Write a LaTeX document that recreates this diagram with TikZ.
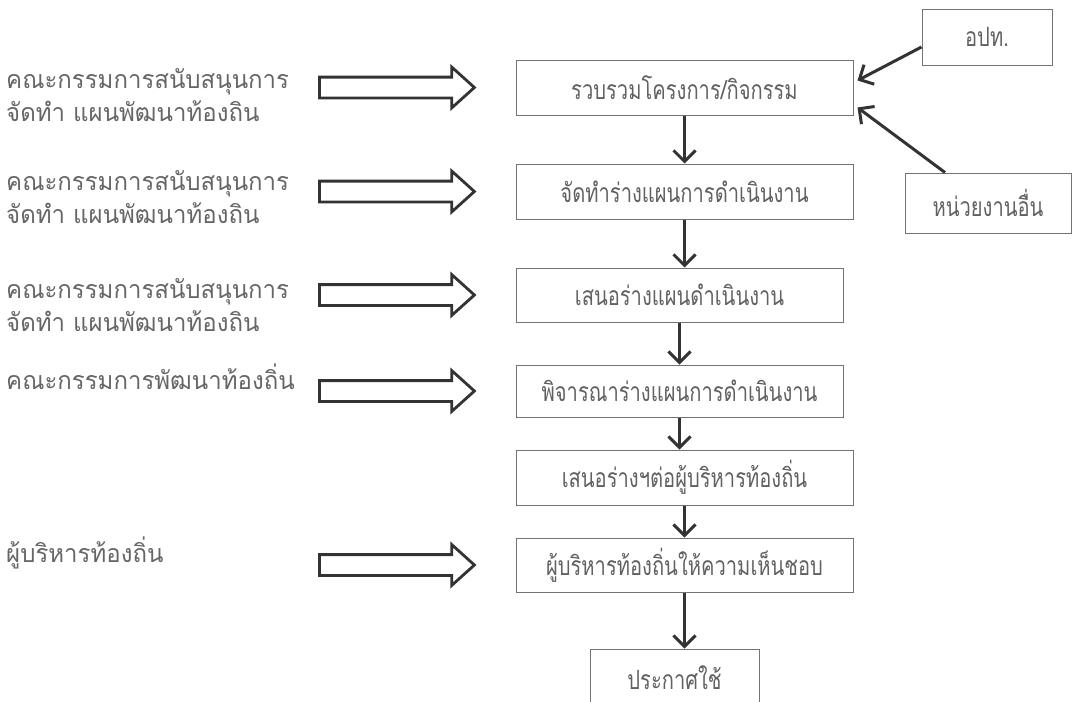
\documentclass[tikz,border=0pt]{standalone}
\usepackage{fontspec}
\newfontfamily\thaibox[Script=Thai,FakeStretch=0.76]{Loma}
\newfontfamily\thaiside[Script=Thai,FakeStretch=0.96]{Loma}
\usetikzlibrary{arrows.meta}
\usetikzlibrary{positioning}
\usetikzlibrary{shapes.arrows}

\tikzset{
  stage/.style={draw=black!55, line width=1pt, inner sep=0pt,
    text=black!62, font=\thaibox\fontsize{26.5}{28}\selectfont},
  side/.style={anchor=west, align=left, inner sep=0pt,
    text=black!60, font=\thaiside\fontsize{25}{33}\selectfont},
  flow/.style={draw=black!80, line width=3pt,
    -{Straight Barb[length=11pt,width=22pt,line width=3pt]}},
  hollow/.style={single arrow, draw=black!80, line width=2.8pt, fill=white,
    minimum height=155pt, inner xsep=0pt, inner ysep=9pt,
    single arrow head extend=10pt, single arrow tip angle=84},
}

\begin{document}
\begin{tikzpicture}[x=1pt,y=1pt]
  \useasboundingbox (0,0) rectangle (1072,-702);

  % main column
  \node[stage, minimum width=337pt, minimum height=55pt] (b1) at (684.5,-87.5) {รวบรวมโครงการ/กิจกรรม};
  \node[stage, minimum width=337pt, minimum height=55pt,
        below=48pt of b1.south west, anchor=north west] (b2) {จัดทำร่างแผนการดำเนินงาน};
  \node[stage, minimum width=327pt, minimum height=54pt,
        below=48pt of b2.south west, anchor=north west] (b3) {เสนอร่างแผนดำเนินงาน};
  \node[stage, minimum width=327pt, minimum height=52pt,
        below=42pt of b3.south west, anchor=north west] (b4) {พิจารณาร่างแผนการดำเนินงาน};
  \node[stage, minimum width=337pt, minimum height=55pt,
        below=32pt of b4.south west, anchor=north west] (b5) {เสนอร่างฯต่อผู้บริหารท้องถิ่น};
  \node[stage, minimum width=337pt, minimum height=54pt,
        below=32pt of b5.south west, anchor=north west] (b6) {ผู้บริหารท้องถิ่นให้ความเห็นชอบ};
  \node[stage, minimum width=169pt, minimum height=58pt,
        below=56pt of b6, xshift=-10pt] (b7) {ประกาศใช้};

  % side sources
  \node[stage, minimum width=130pt, minimum height=56pt] (apt) at (987,-37) {อปท.};
  \node[stage, minimum width=166pt, minimum height=60pt] (other) at (988,-203) {หน่วยงานอื่น};

  \foreach \a/\b in {b1/b2, b2/b3, b3/b4, b4/b5, b5/b6, b6/b7}
    \draw[flow] (\a.south) -- (\a.south |- \b.north);

  \draw[flow] ([yshift=-10pt]apt.west) -- ([xshift=4pt,yshift=7pt]b1.east);
  \draw[flow] ([xshift=-43pt]other.north) -- ([xshift=4pt,yshift=-20pt]b1.east);

  % committees on the left
  \node[side] (c1) at (6,-95) {คณะกรรมการสนับสนุนการ\\จัดทำ แผนพัฒนาท้องถิน};
  \node[side] (c2) at (6,-197) {คณะกรรมการสนับสนุนการ\\จัดทำ แผนพัฒนาท้องถิน};
  \node[side] (c3) at (6,-305) {คณะกรรมการสนับสนุนการ\\จัดทำ แผนพัฒนาท้องถิน};
  \node[side] (c4) at (6,-377) {คณะกรรมการพัฒนาท้องถิ่น};
  \node[side] (c6) at (6,-553) {ผู้บริหารท้องถิ่น};

  \foreach \b in {b1, b2, b3, b4, b6}
    \node[hollow, anchor=tip] (h\b) at ([xshift=-39pt]\b.west) {};
\end{tikzpicture}
\end{document}
